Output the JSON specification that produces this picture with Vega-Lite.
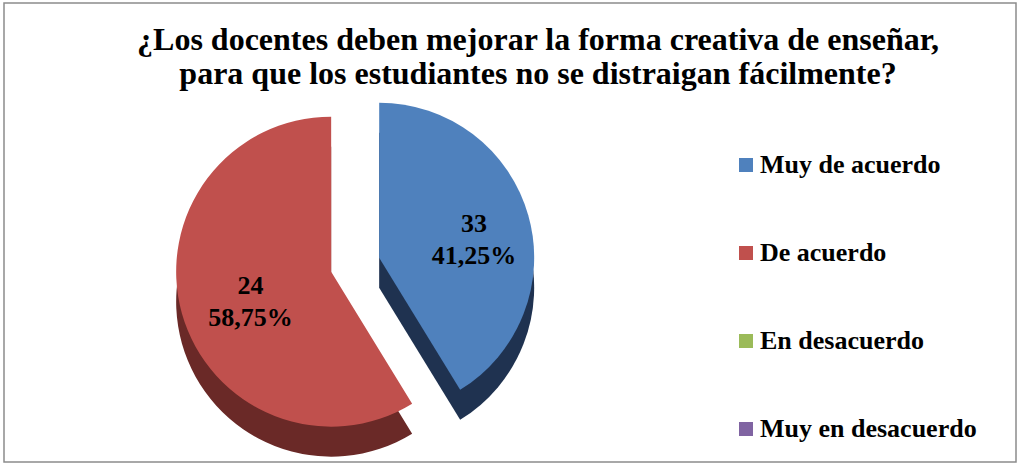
{
  "$schema": "https://vega.github.io/schema/vega-lite/v6.json",
  "width": 1012,
  "height": 459,
  "autosize": "none",
  "padding": {"left": 4, "top": 3, "right": 4, "bottom": 3},
  "background": "white",
  "view": {"stroke": "#8c8c8c", "strokeWidth": 1.5},
  "config": {
    "font": "Liberation Serif, DejaVu Serif, serif"
  },
  "title": {
    "text": ["¿Los docentes deben mejorar la forma creativa de enseñar,", "para que los estudiantes no se distraigan fácilmente?"],
    "font": "Liberation Serif, DejaVu Serif, serif",
    "fontSize": 32,
    "fontWeight": "bold",
    "color": "black",
    "anchor": "middle",
    "frame": "group",
    "orient": "top",
    "offset": -88,
    "dx": 28,
    "lineHeight": 34
  },
  "data": {
    "values": [
      {"cat": "Muy de acuerdo", "ord": 1, "pct": 41.25, "label": "33\n41,25%"},
      {"cat": "De acuerdo", "ord": 2, "pct": 58.75, "label": "24\n58,75%"},
      {"cat": "En desacuerdo", "ord": 3, "pct": 0, "label": ""},
      {"cat": "Muy en desacuerdo", "ord": 4, "pct": 0, "label": ""}
    ]
  },
  "transform": [
    {"stack": "pct", "groupby": [], "sort": [{"field": "ord", "order": "ascending"}], "as": ["t0", "t1"]}
  ],
  "layer": [
    {
      "transform": [{"filter": "datum.cat == 'De acuerdo'"}],
      "mark": {"type": "arc", "radius": 155, "x": {"expr": "width*0.347 - 24"}, "y": {"expr": "height*0.57 + 7 + 30"}, "color": "#6a2927"},
      "encoding": {
        "theta": {"field": "t0", "type": "quantitative", "scale": {"domain": [0, 100]}},
        "theta2": {"field": "t1"}
      }
    },
    {
      "transform": [{"filter": "datum.cat == 'Muy de acuerdo'"}],
      "mark": {"type": "arc", "radius": 155, "x": {"expr": "width*0.347 + 24"}, "y": {"expr": "height*0.57 - 7 + 30"}, "color": "#1f3250"},
      "encoding": {
        "theta": {"field": "t0", "type": "quantitative", "scale": {"domain": [0, 100]}},
        "theta2": {"field": "t1"}
      }
    },
    {
      "transform": [{"filter": "datum.cat == 'De acuerdo'"}],
      "mark": {"type": "arc", "radius": 155, "x": {"expr": "width*0.347 - 24"}, "y": {"expr": "height*0.57 + 7"}},
      "encoding": {
        "theta": {"field": "t0", "type": "quantitative", "scale": {"domain": [0, 100]}},
        "theta2": {"field": "t1"},
        "color": {
          "field": "cat", "type": "nominal",
          "scale": {"domain": ["Muy de acuerdo", "De acuerdo", "En desacuerdo", "Muy en desacuerdo"], "range": ["#4f81bd", "#c0504d", "#9bbb59", "#8064a2"]},
          "legend": {
            "title": null, "orient": "none", "legendX": 729, "legendY": 149,
            "symbolType": "square", "symbolSize": 196, "symbolStrokeWidth": 0,
            "labelFont": "Liberation Serif, DejaVu Serif, serif", "labelFontSize": 26, "labelFontWeight": "bold", "labelColor": "black",
            "labelOffset": 1, "rowPadding": 62, "padding": 0, "labelLimit": 400
          }
        }
      }
    },
    {
      "transform": [{"filter": "datum.cat == 'Muy de acuerdo'"}],
      "mark": {"type": "arc", "radius": 155, "x": {"expr": "width*0.347 + 24"}, "y": {"expr": "height*0.57 - 7"}},
      "encoding": {
        "theta": {"field": "t0", "type": "quantitative", "scale": {"domain": [0, 100]}},
        "theta2": {"field": "t1"},
        "color": {"field": "cat", "type": "nominal"}
      }
    },
    {
      "mark": {"type": "text", "radius": 116, "x": {"expr": "width*0.354"}, "y": {"expr": "height*0.549"}, "lineBreak": "\n", "font": "Liberation Serif, DejaVu Serif, serif", "fontSize": 26, "fontWeight": "bold", "color": "black", "lineHeight": 32},
      "encoding": {
        "theta": {"field": "pct", "type": "quantitative", "stack": true},
        "order": {"field": "ord"},
        "text": {"field": "label"}
      }
    }
  ]
}
